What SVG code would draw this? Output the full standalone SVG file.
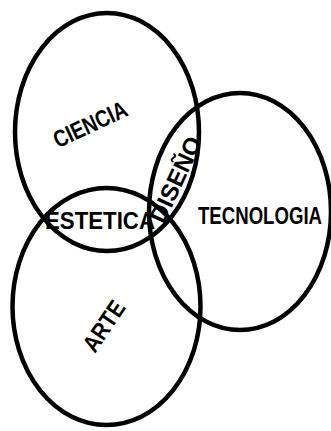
<svg xmlns="http://www.w3.org/2000/svg" width="331" height="431" viewBox="0 0 331 431">
<style>
.set{fill:none;stroke:#000;stroke-width:4.5}
.lbl{font-family:"Liberation Sans",Arial,Helvetica,sans-serif;font-weight:bold;font-size:24px;fill:#000}
.mid{text-anchor:middle}
</style>
<rect width="331" height="431" fill="#fff"/>
<g id="ciencia">
<ellipse class="set" cx="107" cy="132" rx="92" ry="119"/>
<text class="lbl mid" transform="translate(90,124) rotate(-25) scale(0.8,1)" x="0" y="8.6">CIENCIA</text>
</g>
<g id="arte">
<ellipse class="set" cx="106.5" cy="306.5" rx="94" ry="118.5"/>
<text class="lbl mid" transform="translate(103.5,326) rotate(-56) scale(0.86,1)" x="0" y="8.6">ARTE</text>
</g>
<g id="tecnologia">
<ellipse class="set" cx="240" cy="211.5" rx="91" ry="118.5"/>
<text class="lbl" transform="translate(198,224) scale(0.775,1)" x="0" y="0">TECNOLOGIA</text>
</g>
<g id="estetica">
<text class="lbl" transform="translate(45,229) scale(0.927,1)" x="0" y="0">ESTETICA</text>
</g>
<g id="diseno">
<text class="lbl mid" transform="translate(175.5,179.5) rotate(-65)" x="0" y="8.6">DISEÑO</text>
</g>
<g id="connectors"/>
</svg>
